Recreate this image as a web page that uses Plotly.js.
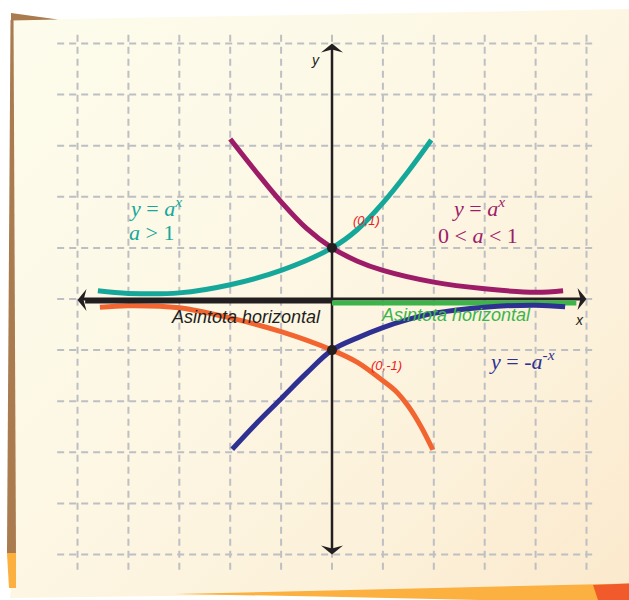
<!DOCTYPE html>
<html>
<head>
<meta charset="utf-8">
<script src="https://cdn.plot.ly/plotly-3.0.1.min.js"></script>
<style>
  html, body { margin: 0; padding: 0; background: #ffffff; }
  #wrap { position: relative; width: 629px; height: 600px; overflow: hidden; }
  #sheet {
    position: absolute; left: 0; top: 0; width: 629px; height: 600px;
    background: linear-gradient(135deg, #fdfcec 0%, #fdf8e6 40%, #fcf1da 75%, #fbe9cc 100%);
    clip-path: polygon(13px 20px, 629px 9px, 629px 590px, 10px 598px, 15px 560px);
  }
  #chart { position: absolute; left: 0; top: 0; width: 629px; height: 600px; }
</style>
</head>
<body>
<div id="wrap"><div id="sheet"></div><div id="chart"></div></div>
<script>
// Grid positions (units)
const gridTicks = [-5, -4, -3, -2, -1, 0, 1, 2, 3, 4, 5];

// y = a^x, a > 1
const tealX = [-4.6, -4.0, -3.0, -2.0, -1.0, 0, 0.5, 1.0, 1.5, 1.95];
const tealY = [0.16, 0.11, 0.12, 0.28, 0.56, 1.0, 1.36, 1.88, 2.5, 3.11];

// y = a^x, 0 < a < 1
const purpleX = [-2.0, -1.5, -1.0, -0.5, 0, 0.5, 1.0, 2.0, 3.0, 4.0, 4.54];
const purpleY = [3.13, 2.5, 1.9, 1.38, 1.0, 0.74, 0.56, 0.33, 0.2, 0.13, 0.16];

// y = -a^x
const orangeX = [-4.56, -4.0, -3.0, -2.0, -1.0, 0, 0.5, 1.0, 1.25, 1.5, 1.75, 1.98];
const orangeY = [-0.16, -0.13, -0.17, -0.37, -0.64, -1.0, -1.24, -1.6, -1.8, -2.1, -2.5, -2.95];

// y = -a^-x
const navyX = [-1.96, -1.5, -1.0, -0.5, 0, 0.5, 1.0, 1.5, 2.0, 3.0, 4.0, 4.58];
const navyY = [-2.94, -2.45, -1.95, -1.45, -1.0, -0.76, -0.56, -0.4, -0.28, -0.16, -0.12, -0.15];

// Horizontal asymptotes
const asymLeftX = [-4.85, 0], asymLeftY = [-0.04, -0.04];
const asymRightX = [0, 4.8], asymRightY = [-0.08, -0.08];

// Intercepts
const pointX = [0, 0];
const pointY = [1, -1];

const axisLimit = 5;

// Axis ranges chosen so one unit is ~51 px
const xRange = [-6.523, 5.835];
const yRange = [-5.890, 5.851];
const W = 629, H = 600;
const ux = (xRange[1] - xRange[0]) / W;
const uy = (yRange[1] - yRange[0]) / H;

const INK = '#231f20';

function curve(x, y, color) {
  return { x: x, y: y, mode: 'lines', hoverinfo: 'skip',
    line: { color: color, width: 5, shape: 'spline', smoothing: 1 } };
}

function arrowHead(tipX, tipY, dx, dy) {
  const len = 9, half = 11, notch = 3;
  const bx = tipX - dx * len * ux, by = tipY - dy * len * uy;
  const nx = tipX - dx * (len - notch) * ux, ny = tipY - dy * (len - notch) * uy;
  const ox = -dy * half * ux, oy = dx * half * uy;
  return { x: [tipX, bx + ox, nx, bx - ox, tipX], y: [tipY, by + oy, ny, by - oy, tipY],
    mode: 'lines', fill: 'toself', fillcolor: INK, line: { width: 0, color: INK }, hoverinfo: 'skip' };
}

const traces = [
  curve(tealX, tealY, '#16a79b'),
  curve(purpleX, purpleY, '#9c1c68'),
  curve(orangeX, orangeY, '#f26430'),
  // axes
  { x: [-axisLimit + 0.1, axisLimit - 0.1], y: [0, 0], mode: 'lines', hoverinfo: 'skip', line: { color: INK, width: 3 } },
  { x: [0, 0], y: [-axisLimit + 0.1, axisLimit - 0.1], mode: 'lines', hoverinfo: 'skip', line: { color: INK, width: 2.5 } },
  { x: asymLeftX, y: asymLeftY, mode: 'lines', hoverinfo: 'skip', line: { color: INK, width: 5 } },
  { x: asymRightX, y: asymRightY, mode: 'lines', hoverinfo: 'skip', line: { color: '#3bb54a', width: 5 } },
  curve(navyX, navyY, '#2e3192'),
  arrowHead(0, axisLimit, 0, 1),
  arrowHead(0, -axisLimit, 0, -1),
  arrowHead(axisLimit, 0, 1, 0),
  arrowHead(-axisLimit, -0.02, -1, 0),
  { x: pointX, y: pointY, mode: 'markers', hoverinfo: 'skip', marker: { color: INK, size: 10 } }
];

// Dashed grid
const gridStyle = { color: '#bebfc3', width: 2, dash: '7px,5px' };
const shapes = [];
gridTicks.forEach(t => {
  shapes.push({ type: 'line', xref: 'x', yref: 'y', x0: t, x1: t, y0: -5.30, y1: 5.24, line: gridStyle, layer: 'below' });
  shapes.push({ type: 'line', xref: 'x', yref: 'y', x0: -5.40, x1: 5.21, y0: t, y1: t, line: gridStyle, layer: 'below' });
});

// Coloured edges of the sheet (page pixels -> paper fractions)
function sheetPath(pts) {
  return pts.map((p, i) => (i ? 'L' : 'M') + (p[0] / W).toFixed(4) + ',' + (1 - p[1] / H).toFixed(4)).join(' ') + ' Z';
}
function flap(pts, color) {
  return { type: 'path', xref: 'paper', yref: 'paper', path: sheetPath(pts), fillcolor: color, line: { width: 0 }, layer: 'below' };
}
shapes.push(flap([[11, 13], [58, 19.5], [11, 20.5]], '#a97b4e'));
shapes.push(flap([[10.5, 20], [13.5, 20], [16, 553], [7, 553]], '#a97b4e'));
shapes.push(flap([[7, 553], [16, 553], [16, 588], [9, 588]], '#fbb03f'));
shapes.push(flap([[175, 594], [629, 583.5], [629, 600], [480, 600], [320, 596.5]], '#fbb03f'));
shapes.push(flap([[593, 585], [629, 583.5], [629, 600], [598, 600]], '#f15a2b'));

const mathFont = { family: 'Liberation Serif, serif', size: 22 };
function label(x, y, text, color, font, extra) {
  return Object.assign({ x: x, y: y, xref: 'x', yref: 'y', text: text, showarrow: false,
    font: Object.assign({}, font, { color: color }) }, extra || {});
}
const sansFont = { family: 'Liberation Sans, Arial, sans-serif', size: 18 };
const pointFont = { family: 'Liberation Sans, sans-serif', size: 13 };
const annotations = [
  label(-0.33, 4.68, '<i>y</i>', INK, { family: 'Liberation Sans, sans-serif', size: 14 }),
  label(4.87, -0.41, '<i>x</i>', INK, { family: 'Liberation Sans, sans-serif', size: 14 }),
  label(-4.03, 1.80, '<i>y</i> = <i>a</i><sup><i>x</i></sup>', '#16a79b', mathFont, { xanchor: 'left' }),
  label(-4.03, 1.30, '<i>a</i> &gt; 1', '#16a79b', mathFont, { xanchor: 'left' }),
  label(2.87, 1.80, '<i>y</i> = <i>a</i><sup><i>x</i></sup>', '#9c1c68', mathFont),
  label(2.87, 1.25, '0 &lt; <i>a</i> &lt; 1', '#9c1c68', mathFont),
  label(3.73, -1.19, '<i>y</i> = -<i>a</i><sup>-<i>x</i></sup>', '#2e3192', mathFont),
  label(0.67, 1.53, '<i>(0,1)</i>', '#ed1c24', pointFont),
  label(1.08, -1.31, '<i>(0,-1)</i>', '#ed1c24', pointFont),
  label(-1.69, -0.36, '<i>Asintota horizontal</i>', INK, sansFont),
  label(2.44, -0.32, '<i>Asintota horizontal</i>', '#3bb54a', sansFont)
];

const hidden = { visible: false, showgrid: false, zeroline: false, fixedrange: true };
const layout = {
  width: W, height: H,
  margin: { l: 0, r: 0, t: 0, b: 0, pad: 0 },
  paper_bgcolor: 'rgba(0,0,0,0)',
  plot_bgcolor: 'rgba(0,0,0,0)',
  showlegend: false,
  xaxis: Object.assign({ range: xRange }, hidden),
  yaxis: Object.assign({ range: yRange }, hidden),
  shapes: shapes,
  annotations: annotations
};

Plotly.newPlot('chart', traces, layout, { staticPlot: true, displayModeBar: false });
</script>
</body>
</html>
